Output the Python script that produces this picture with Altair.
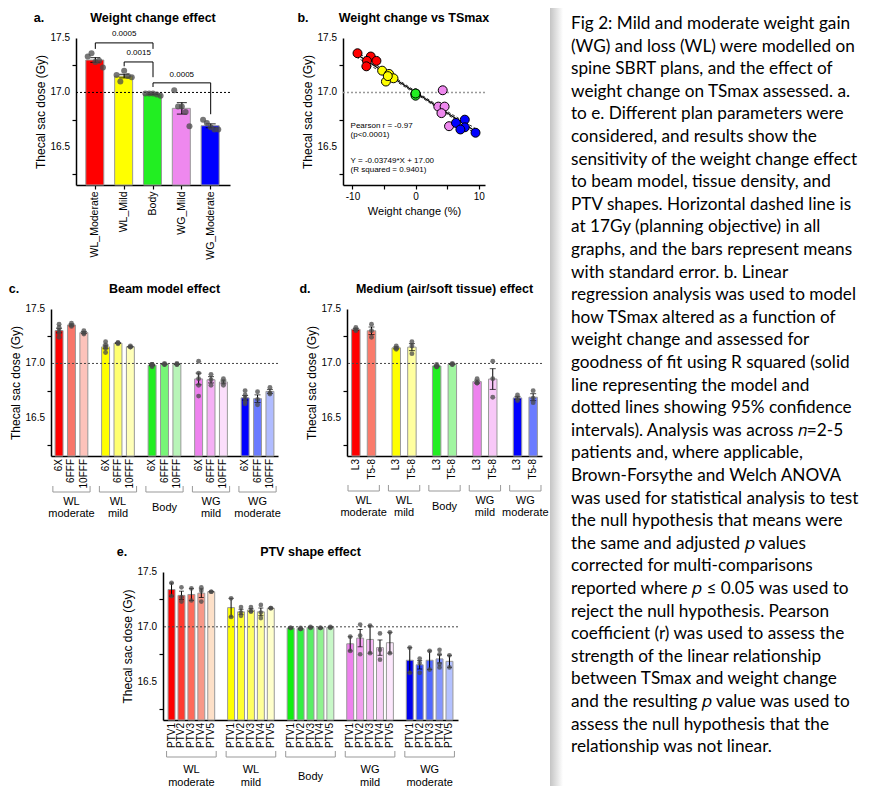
import altair as alt
import pandas as pd
import numpy as np

FONT = "Liberation Sans"
YMIN, YMAX = 16.15, 17.5
Y_TICKS = [16.25, 16.5, 16.75, 17.0, 17.25, 17.5]
Y_LABEL_VALUES = [16.5, 17.0, 17.5]
Y_LABELS = ["16.5", "17.0", "17.5"]
Y_TITLE = "Thecal sac dose (Gy)"

# ---------------- panel a data ----------------
a_groups = ["WL_Moderate", "WL_Mild", "Body", "WG_Mild", "WG_Moderate"]
a_colors = ["#ff0000", "#ffff00", "#22ee22", "#ee88ee", "#0000ff"]
a_wl_moderate = [17.33, 17.36, 17.28, 17.29, 17.23]
a_wl_mild = [17.16, 17.10, 17.20, 17.15, 17.14]
a_body = [16.99, 16.99, 16.99, 16.98, 16.97]
a_wg_mild = [17.02, 16.87, 16.87, 16.82, 16.69]
a_wg_moderate = [16.75, 16.72, 16.68, 16.66, 16.66]
a_brk_left = ["WL_Moderate", "WL_Mild", "Body"]
a_brk_right = ["Body", "Body", "WG_Moderate"]
a_brk_y = [17.455, 17.28, 17.088]
a_brk_left_end = [17.40, 17.24, 17.05]
a_brk_right_end = [17.40, 17.14, 16.80]
a_brk_label = ["0.0005", "0.0015", "0.0005"]
a_brk_label_y = [17.54, 17.36, 17.16]

# ---------------- panel b data ----------------
b_groups = ["WL moderate", "WL mild", "Body", "WG mild", "WG moderate"]
b_colors = ["#ff0000", "#ffff00", "#22ee22", "#ee88ee", "#0000ff"]
b_x = [[-9.2, -7.1, -7.7, -6.2, -7.8], [-5.3, -4.2, -3.5, -4.7, -4.4], [0, 0, 0, 0, 0],
       [4.3, 3.6, 4.6, 4.1, 5.3], [6.4, 7.8, 7.8, 7.1, 9.5]]
b_y = [[17.36, 17.33, 17.29, 17.29, 17.24], [17.20, 17.17, 17.13, 17.10, 17.15],
       [16.99, 16.99, 16.98, 16.97, 16.99], [17.02, 16.87, 16.87, 16.81, 16.69],
       [16.72, 16.75, 16.68, 16.66, 16.63]]
b_fit_x = [-9.4, 9.8]
b_fit_y = [17.352, 16.633]
b_ci_x = [-9.4, -5.0, 0.0, 5.0, 9.8]
b_ci_upper = [17.378, 17.203, 17.011, 16.826, 16.658]
b_ci_lower = [17.326, 17.172, 16.989, 16.800, 16.608]
b_notes = ["Pearson r = -0.97", "(p<0.0001)", "Y = -0.03749*X + 17.00", "(R squared = 0.9401)"]
b_notes_y = [16.695, 16.61, 16.37, 16.29]

# ---------------- panel c data ----------------
c_groups = ["WL moderate", "WL mild", "Body", "WG mild", "WG moderate"]
c_subs = ["6X", "6FFF", "10FFF"]
c_wl_moderate = [[17.36, 17.33, 17.30, 17.28, 17.24], [17.37, 17.35, 17.34], [17.30, 17.28, 17.27]]
c_wl_mild = [[17.20, 17.17, 17.15, 17.14, 17.10], [17.19, 17.18, 17.19], [17.15, 17.15, 17.16]]
c_body = [[16.99, 16.99, 16.98, 16.97, 16.99], [16.99, 16.99, 17.00], [16.99, 16.99, 17.00]]
c_wg_mild = [[17.02, 16.91, 16.86, 16.80, 16.70], [16.90, 16.85, 16.80], [16.86, 16.83, 16.80]]
c_wg_moderate = [[16.75, 16.71, 16.68, 16.65, 16.63], [16.74, 16.67, 16.62], [16.78, 16.73, 16.72]]
c_colors = [["#ff0000", "#f8766a", "#fdc3bb"], ["#ffff00", "#ffff70", "#ffffb8"],
            ["#22ee22", "#77f577", "#b8f5b8"], ["#ee82ee", "#f5b0f5", "#fbdefb"],
            ["#0000ff", "#6a7bff", "#b0bcff"]]

# ---------------- panel d data ----------------
d_subs = ["L3", "T5-8"]
d_wl_moderate = [[17.33, 17.30, 17.31], [17.36, 17.30, 17.24]]
d_wl_mild = [[17.16, 17.13, 17.14], [17.20, 17.16, 17.09]]
d_body = [[16.99, 16.97, 16.97], [17.00, 16.99, 16.99]]
d_wg_mild = [[16.86, 16.82, 16.82], [17.02, 16.86, 16.69]]
d_wg_moderate = [[16.71, 16.66, 16.68], [16.75, 16.68, 16.64]]
d_colors = [["#ff0000", "#fa7b6b"], ["#ffff00", "#ffffa0"], ["#22ee22", "#a0f5a0"],
            ["#ee82ee", "#f8c8f8"], ["#0000ff", "#6a7bff"]]

# ---------------- panel e data ----------------
e_subs = ["PTV1", "PTV2", "PTV3", "PTV4", "PTV5"]
e_wl_moderate = [[17.40, 17.28], [17.36, 17.27, 17.23], [17.35, 17.24], [17.36, 17.23, 17.33], [17.32, 17.32]]
e_wl_mild = [[17.26, 17.09], [17.18, 17.13, 17.10], [17.18, 17.14, 17.14], [17.20, 17.13, 17.08], [17.17, 17.17]]
e_body = [[16.99, 16.99], [16.99, 16.98, 16.98], [17.00, 16.99], [16.99, 16.99], [17.00, 16.99]]
e_wg_mild = [[16.91, 16.78], [17.02, 16.92, 16.75], [17.01, 16.76], [16.94, 16.79, 16.70], [16.95, 16.76]]
e_wg_moderate = [[16.81, 16.58], [16.71, 16.67, 16.58], [16.78, 16.61], [16.79, 16.75, 16.66, 16.63], [16.74, 16.63]]
e_colors = [["#ff0000", "#ff3a30", "#ff6a5a", "#f89888", "#fde0c8"],
            ["#ffff00", "#ffff30", "#ffff60", "#ffff98", "#ffffcc"],
            ["#11ee11", "#33ee44", "#5aee66", "#90f290", "#c8f8c8"],
            ["#ee82ee", "#f2a0f0", "#f5b8f5", "#f8d0f8", "#fce8fc"],
            ["#0000ee", "#2a44ff", "#5068ff", "#8496ff", "#b4c2ff"]]

# ---------------- caption ----------------
caption_lines = [
    "Fig 2: Mild and moderate weight gain",
    "(WG) and loss (WL) were modelled on",
    "spine SBRT plans, and the effect of",
    "weight change on TSmax assessed. a.",
    "to e. Different plan parameters were",
    "considered, and results show the",
    "sensitivity of the weight change effect",
    "to beam model, tissue density, and",
    "PTV shapes. Horizontal dashed line is",
    "at 17Gy (planning objective) in all",
    "graphs, and the bars represent means",
    "with standard error. b. Linear",
    "regression analysis was used to model",
    "how TSmax altered as a function of",
    "weight change and assessed for",
    "goodness of fit using R squared (solid",
    "line representing the model and",
    "dotted lines showing 95% confidence",
    "intervals). Analysis was across \U0001D45B=2-5",
    "patients and, where applicable,",
    "Brown-Forsythe and Welch ANOVA",
    "was used for statistical analysis to test",
    "the null hypothesis that means were",
    "the same and adjusted \U0001D45D values",
    "corrected for multi-comparisons",
    "reported where \U0001D45D \u2264 0.05 was used to",
    "reject the null hypothesis. Pearson",
    "coefficient (r) was used to assess the",
    "strength of the linear relationship",
    "between TSmax and weight change",
    "and the resulting \U0001D45D value was used to",
    "assess the null hypothesis that the",
    "relationship was not linear.",
]

ONE = pd.DataFrame({"z": [0]})
IND = dict(x="independent", y="independent", color="independent", xOffset="independent")


def yq(field):
    return alt.Y(field, type="quantitative",
                 scale=alt.Scale(domain=[YMIN, YMAX], nice=False, zero=False),
                 axis=alt.Axis(values=Y_TICKS, title=Y_TITLE, labels=False, tickSize=4,
                               titleFontSize=12, titlePadding=24))


def y_labels():
    df = pd.DataFrame(dict(v=Y_LABEL_VALUES, t=Y_LABELS))
    return alt.Chart(df).mark_text(font=FONT, fontSize=10, align="right", baseline="middle").encode(
        x=alt.value(-6), y=yq("v"), text="t:N")


def heading(letter, title, w, letter_x):
    l1 = alt.Chart(pd.DataFrame({"t": [letter]})).mark_text(
        font=FONT, fontSize=12.5, fontWeight="bold", baseline="middle", align="center"
    ).encode(text="t:N", x=alt.value(letter_x), y=alt.value(-20))
    l2 = alt.Chart(pd.DataFrame({"t": [title]})).mark_text(
        font=FONT, fontSize=12.5, fontWeight="bold", baseline="middle", align="center"
    ).encode(text="t:N", x=alt.value(w / 2), y=alt.value(-20))
    return [l1, l2]


def stats(vals):
    arr = np.array(vals, dtype=float)
    m = arr.mean()
    se = arr.std(ddof=1) / np.sqrt(len(arr))
    return m, m - se, m + se


# ================= panel a =================
def XA(field):
    return alt.X(field, type="nominal",
                 scale=alt.Scale(domain=a_groups, paddingInner=0.34, paddingOuter=0.34),
                 axis=alt.Axis(title=None, labelAngle=270, labelFontSize=10.5, tickSize=4, labelPadding=2))


def panel_a():
    W, H = 154, 147
    lists = [a_wl_moderate, a_wl_mild, a_body, a_wg_mild, a_wg_moderate]
    bars, pts = [], []
    for g, vals in zip(a_groups, lists):
        m, lo, hi = stats(vals)
        bars.append(dict(g=g, mean=m, lo=lo, hi=hi))
        for k, v in enumerate(vals):
            pts.append(dict(g=g, k=k, v=v))
    bdf, pdf = pd.DataFrame(bars), pd.DataFrame(pts)
    X = XA("g")
    base_b = alt.Chart(bdf)
    bar = base_b.mark_bar(stroke="#999999", strokeWidth=1).encode(
        x=X, y=yq("mean"), y2=alt.datum(YMIN),
        color=alt.Color("g:N", scale=alt.Scale(domain=a_groups, range=a_colors), legend=None))
    ref = alt.Chart(ONE).mark_rule(color="black", strokeDash=[2, 2], strokeWidth=1).encode(y=alt.datum(17.0))
    err = base_b.mark_rule(color="black", strokeWidth=1.2).encode(x=X, y=yq("lo"), y2="hi:Q")
    cap1 = base_b.mark_tick(color="black", size=10, thickness=1.2).encode(x=X, y=yq("lo"))
    cap2 = base_b.mark_tick(color="black", size=10, thickness=1.2).encode(x=X, y=yq("hi"))
    dots = alt.Chart(pdf).mark_circle(color="#4a4a4a", opacity=0.75, size=36).encode(
        x=X, xOffset=alt.XOffset("k:O", scale=alt.Scale(paddingInner=0, paddingOuter=0.5)), y=yq("v"))
    brk = pd.DataFrame(dict(l=a_brk_left, r=a_brk_right, y=a_brk_y, le=a_brk_left_end,
                            re=a_brk_right_end, lab=a_brk_label, ly=a_brk_label_y))
    hb = alt.Chart(brk).mark_rule(color="black", strokeWidth=1).encode(x=XA("l"), x2="r:N", y=yq("y"))
    lleg = alt.Chart(brk).mark_rule(color="black", strokeWidth=1).encode(x=XA("l"), y=yq("y"), y2="le:Q")
    rleg = alt.Chart(brk).mark_rule(color="black", strokeWidth=1).encode(x=XA("r"), y=yq("y"), y2="re:Q")
    t1 = pd.DataFrame(dict(g=["WL_Mild", "WG_Mild"], lab=[a_brk_label[0], a_brk_label[2]],
                           ly=[a_brk_label_y[0], a_brk_label_y[2]]))
    t2 = pd.DataFrame(dict(g=["WL_Mild"], lab=[a_brk_label[1]], ly=[a_brk_label_y[1]]))
    txt1 = alt.Chart(t1).mark_text(font=FONT, fontSize=8, baseline="middle").encode(x=X, y=yq("ly"), text="lab:N")
    txt2 = alt.Chart(t2).mark_text(font=FONT, fontSize=8, baseline="middle", dx=14.5).encode(x=X, y=yq("ly"), text="lab:N")
    layers = [bar, ref, err, cap1, cap2, dots, hb, lleg, rleg, txt1, txt2, y_labels()] + \
        heading("a.", "Weight change effect", W, -37)
    return alt.layer(*layers).properties(width=W, height=H)


# ================= panel b =================
def panel_b():
    W, H = 142, 147
    rows = []
    for g, xs, ys in zip(b_groups, b_x, b_y):
        for xv, yv in zip(xs, ys):
            rows.append(dict(g=g, x=xv, y=yv))
    pdf = pd.DataFrame(rows)
    X = alt.X("x:Q", scale=alt.Scale(domain=[-11.5, 11], nice=False, zero=False),
              axis=alt.Axis(values=[-10, -5, 0, 5, 10], labelExpr="datum.value % 10 == 0 ? '' + datum.value : ''",
                            title="Weight change (%)", titleFontSize=11, labelFontSize=10, tickSize=4, labelPadding=2))
    ref = alt.Chart(ONE).mark_rule(color="#999999", strokeDash=[2, 2], strokeWidth=1.5).encode(y=alt.datum(17.0))
    ci = pd.DataFrame(dict(x=b_ci_x * 2, y=b_ci_upper + b_ci_lower,
                           side=["u"] * len(b_ci_x) + ["l"] * len(b_ci_x)))
    cil = alt.Chart(ci).mark_line(color="black", strokeDash=[3, 2], strokeWidth=0.8).encode(
        x=X, y=yq("y"), detail="side:N")
    fit = alt.Chart(pd.DataFrame(dict(x=b_fit_x, y=b_fit_y))).mark_line(color="black", strokeWidth=1.2).encode(
        x=X, y=yq("y"))
    dots = alt.Chart(pdf).mark_circle(size=80, stroke="black", strokeWidth=1, opacity=1).encode(
        x=X, y=yq("y"),
        color=alt.Color("g:N", scale=alt.Scale(domain=b_groups, range=b_colors), legend=None))
    notes = alt.Chart(pd.DataFrame(dict(t=b_notes, y=b_notes_y, x=[-10.3] * 4))).mark_text(
        font=FONT, fontSize=8, align="left", baseline="middle").encode(x=X, y=yq("y"), text="t:N")
    layers = [ref, cil, fit, dots, notes, y_labels()] + heading("b.", "Weight change vs TSmax", W, -40)
    return alt.layer(*layers).properties(width=W, height=H)


# ================= grouped panels c, d, e =================
def grouped_panel(groups, subs, data_lists, colors, W, H, gpi, gpo, spi, spo,
                  letter, title, letter_x, cap, psize, lab_y, brk):
    bars, pts, keys, cols = [], [], [], []
    for gi, (g, lists) in enumerate(zip(groups, data_lists)):
        for si, (s, vals) in enumerate(zip(subs, lists)):
            m, lo, hi = stats(vals)
            key = g + "|" + s
            keys.append(key)
            cols.append(colors[gi][si])
            bars.append(dict(g=g, s=s, key=key, mean=m, lo=lo, hi=hi))
            for v in vals:
                pts.append(dict(g=g, s=s, v=v))
    bdf, pdf = pd.DataFrame(bars), pd.DataFrame(pts)
    axis = alt.Axis(title=None, ticks=False, labels=False)
    xscale = alt.Scale(domain=groups, paddingInner=gpi, paddingOuter=gpo)
    X = alt.X("g:N", scale=xscale, axis=axis)
    XO = alt.XOffset("s:N", scale=alt.Scale(domain=subs, paddingInner=spi, paddingOuter=spo))
    base_b = alt.Chart(bdf)
    bar = base_b.mark_bar(stroke="#999999", strokeWidth=1).encode(
        x=X, xOffset=XO, y=yq("mean"), y2=alt.datum(YMIN),
        color=alt.Color("key:N", scale=alt.Scale(domain=keys, range=cols), legend=None))
    ref = alt.Chart(ONE).mark_rule(color="#444444", strokeDash=[2, 2], strokeWidth=1).encode(y=alt.datum(17.0))
    err = base_b.mark_rule(color="black", strokeWidth=1).encode(x=X, xOffset=XO, y=yq("lo"), y2="hi:Q")
    cap1 = base_b.mark_tick(color="black", size=cap, thickness=1).encode(x=X, xOffset=XO, y=yq("lo"))
    cap2 = base_b.mark_tick(color="black", size=cap, thickness=1).encode(x=X, xOffset=XO, y=yq("hi"))
    dots = alt.Chart(pdf).mark_circle(color="#4a4a4a", opacity=0.75, size=psize).encode(
        x=X, xOffset=XO, y=yq("v"))
    labs = base_b.mark_text(font=FONT, fontSize=10, angle=270, align="right", baseline="middle").encode(
        x=X, xOffset=XO, y=alt.value(H + 3), text="s:N")
    # group names below the brackets: two-line names stacked, one-line names centred
    top_l, bot_l, mid_l = [], [], []
    for g in groups:
        parts = g.split(" ")
        if len(parts) == 2:
            top_l.append(parts[0]); bot_l.append(parts[1]); mid_l.append("")
        else:
            top_l.append(""); bot_l.append(""); mid_l.append(g)
    gdf = pd.DataFrame(dict(g=groups, top=top_l, bot=bot_l, mid=mid_l))
    glabs = []
    for col, dy in zip(["top", "mid", "bot"], lab_y):
        glabs.append(alt.Chart(gdf).mark_text(font=FONT, fontSize=11, baseline="middle").encode(
            x=X, y=alt.value(H + dy), text=f"{col}:N"))
    hb = alt.Chart(gdf).mark_rule(color="#999999", strokeWidth=1).encode(
        x=alt.X("g:N", scale=xscale, axis=axis, bandPosition=0),
        x2=alt.X2("g:N", bandPosition=1), y=alt.value(H + brk))
    e1 = alt.Chart(gdf).mark_rule(color="#999999", strokeWidth=1).encode(
        x=alt.X("g:N", scale=xscale, axis=axis, bandPosition=0),
        y=alt.value(H + brk - 6), y2=alt.value(H + brk))
    e2 = alt.Chart(gdf).mark_rule(color="#999999", strokeWidth=1).encode(
        x=alt.X("g:N", scale=xscale, axis=axis, bandPosition=1),
        y=alt.value(H + brk - 6), y2=alt.value(H + brk))
    layers = [bar, ref, err, cap1, cap2, dots, labs, hb, e1, e2] + glabs + [y_labels()] + \
        heading(letter, title, W, letter_x)
    return alt.layer(*layers).properties(width=W, height=H)


def caption_chart(W, H, top):
    # origin of this view sits `top` px below the top of the figure
    pitch = 22.6
    first = 21 - top
    d0 = -first / pitch
    d1 = d0 + H / pitch
    df = pd.DataFrame(dict(i=list(range(len(caption_lines))), t=caption_lines))
    grad = alt.Gradient(gradient="linear", x1=0, x2=1, y1=0, y2=0,
                        stops=[alt.GradientStop(color="#c4c4c4", offset=0),
                               alt.GradientStop(color="#ffffff", offset=1)])
    shade = alt.Chart(ONE).mark_rect(color=grad).encode(
        x=alt.value(0), x2=alt.value(13), y=alt.value(-top), y2=alt.value(H))
    txt = alt.Chart(df).mark_text(font="Lato", fontSize=17.2, align="left", baseline="alphabetic",
                                  color="black").encode(
        x=alt.value(21),
        y=alt.Y("i:Q", scale=alt.Scale(domain=[d0, d1], reverse=True, nice=False, zero=False), axis=None),
        text="t:N")
    return alt.layer(shade, txt).properties(width=W, height=H)


def edge(w, H, T, B, at_right=False):
    # white 1px strip marking the outer edge of a row of panels
    x0 = w - 1 if at_right else 0
    return alt.Chart(ONE).mark_rect(color="white").encode(
        x=alt.value(x0), x2=alt.value(x0 + 1), y=alt.value(-T), y2=alt.value(H + B)
    ).properties(width=w, height=H)


def gap(w, H):
    return alt.Chart(ONE).mark_rect(color="white").encode(
        x=alt.value(0), x2=alt.value(0), y=alt.value(0), y2=alt.value(0)).properties(width=w, height=H)


pa = panel_a()
pb = panel_b()
pc = grouped_panel(c_groups, c_subs, [c_wl_moderate, c_wl_mild, c_body, c_wg_mild, c_wg_moderate],
                   c_colors, 227, 147, 0.2, 0.04, 0.36, 0.18, "c.", "Beam model effect", -37,
                   6, 24, (46, 52, 58), 36)
pd_ = grouped_panel(c_groups, d_subs, [d_wl_moderate, d_wl_mild, d_body, d_wg_mild, d_wg_moderate],
                    d_colors, 195, 147, 0.225, 0.025, 0.46, 0.23, "d.", "Medium (air/soft tissue) effect", -42,
                    6, 24, (45, 51, 57), 35)
pe = grouped_panel(c_groups, e_subs, [e_wl_moderate, e_wl_mild, e_body, e_wg_mild, e_wg_moderate],
                   e_colors, 295, 148, 0.167, 0.06, 0.3, 0.15, "e.", "PTV shape effect", -41,
                   5, 22, (50, 57, 63), 37)
cap = caption_chart(318, 748, 30)

row1 = alt.hconcat(edge(68, 147, 30, 85), pa, gap(113, 147), pb, spacing=0, bounds="flush").resolve_scale(**IND)
row2 = alt.hconcat(edge(43, 147, 39, 74), pc, gap(69, 147), pd_, edge(8, 147, 39, 74, at_right=True),
                   spacing=0, bounds="flush").resolve_scale(**IND)
row3 = alt.hconcat(edge(155, 148, 42, 68), pe, spacing=0, bounds="flush").resolve_scale(**IND)
left = alt.vconcat(row1, row2, row3, spacing=0).resolve_scale(**IND)

chart = alt.hconcat(left, cap, spacing=0).resolve_scale(**IND).properties(
    padding={"left": 0, "top": 0, "right": 0, "bottom": 0}
).configure_view(stroke=None).configure_axis(
    labelFont=FONT, titleFont=FONT, labelColor="black", titleColor="black",
    domainColor="black", tickColor="black", domainWidth=1.5, tickWidth=1.2,
    titleFontWeight="normal", grid=False
)

chart.save("out.html", embed_options={"renderer": "svg", "actions": False})
